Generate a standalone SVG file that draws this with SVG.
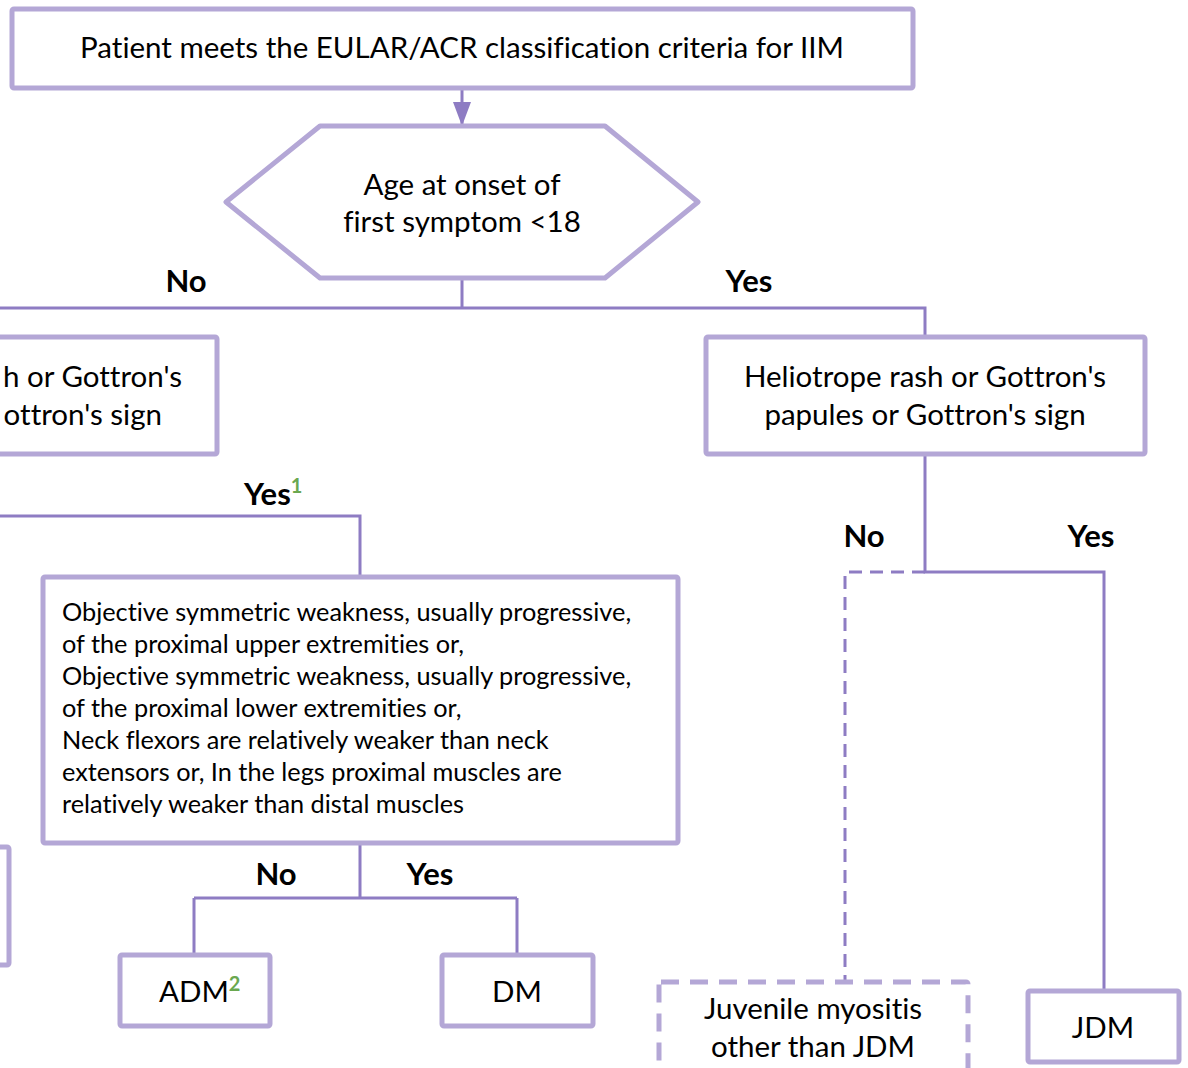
<svg xmlns="http://www.w3.org/2000/svg" width="1188" height="1068" viewBox="0 0 1188 1068">
<defs>
<style>
.box{fill:#fff;stroke:#b4a7d6;stroke-width:5;stroke-linejoin:round}
.dbox{fill:#fff;stroke:#b4a7d6;stroke-width:5;stroke-dasharray:18 11}
.ln{fill:none;stroke:#8e7cc3;stroke-width:3}
.dln{fill:none;stroke:#8e7cc3;stroke-width:3;stroke-dasharray:13 8}
text{font-variant-ligatures:none;font-family:Lato,"Liberation Sans",sans-serif}
.t{font-size:29.5px;fill:#000}
.s{font-size:25.3px;fill:#000}
.b{font-size:31px;font-weight:bold;fill:#000}
.sup{font-size:20px;font-weight:bold;fill:#6aa84f}
</style>
<marker id="ah" viewBox="0 0 10 10" preserveAspectRatio="none" refX="10" refY="5" markerWidth="8" markerHeight="6" markerUnits="strokeWidth" orient="auto">
<path d="M0,0 L10,5 L0,10 z" fill="#8e7cc3"/>
</marker>
</defs>
<g id="connectors">
<path class="ln" d="M462,88 V126" marker-end="url(#ah)"/>
<path class="ln" d="M462,278 V308 M0,308 H925 V337"/>
<path class="ln" d="M0,516 H360 V577"/>
<path class="ln" d="M360,843 V898 M194,898 H517 M194,898 V955 M517,898 V955"/>
<path class="ln" d="M925,454 V572 H1104 V991"/>
<path class="dln" d="M925,572 H845 V981"/>
</g>
<g id="n-start"><rect class="box" x="12" y="9" width="901" height="79" rx="2"/><text class="t" x="462" y="58" text-anchor="middle">Patient meets the EULAR/ACR classification criteria for IIM</text></g>
<g id="n-age"><polygon class="box" points="320,126 605,126 698,202 605,278 320,278 226,202"/><text class="t" x="462" y="195" text-anchor="middle">Age at onset of</text><text class="t" x="462" y="232" text-anchor="middle">first symptom &lt;18</text></g>
<g id="lbl-no1"><text class="b" x="186" y="292" text-anchor="middle">No</text></g>
<g id="lbl-yes1"><text class="b" x="749" y="292" text-anchor="middle">Yes</text></g>
<g id="n-rash-left"><rect class="box" x="-230" y="337" width="447" height="117" rx="2"/><text class="t" x="182" y="387" text-anchor="end">h or Gottron's</text><text class="t" x="162" y="425" text-anchor="end">ottron's sign</text></g>
<g id="n-rash-right"><rect class="box" x="706" y="337" width="439" height="117" rx="2"/><text class="t" x="925" y="387" text-anchor="middle">Heliotrope rash or Gottron's</text><text class="t" x="925" y="425" text-anchor="middle">papules or Gottron's sign</text></g>
<g id="lbl-yes2"><text class="b" x="244" y="505">Yes<tspan class="sup" dy="-12">1</tspan></text></g>
<g id="n-weak"><rect class="box" x="43" y="577" width="635" height="266" rx="2"/>
<text class="s" x="62" y="621">Objective symmetric weakness, usually progressive,</text>
<text class="s" x="62" y="653">of the proximal upper extremities or,</text>
<text class="s" x="62" y="685">Objective symmetric weakness, usually progressive,</text>
<text class="s" x="62" y="717">of the proximal lower extremities or,</text>
<text class="s" x="62" y="749">Neck flexors are relatively weaker than neck</text>
<text class="s" x="62" y="781">extensors or, In the legs proximal muscles are</text>
<text class="s" x="62" y="813">relatively weaker than distal muscles</text></g>
<g id="lbl-no3"><text class="b" x="276" y="885" text-anchor="middle">No</text></g>
<g id="lbl-yes3"><text class="b" x="430" y="885" text-anchor="middle">Yes</text></g>
<g id="n-left-partial"><rect class="box" x="-200" y="847" width="209" height="118" rx="2"/></g>
<g id="n-adm"><rect class="box" x="120" y="955" width="150" height="71" rx="2"/><text class="t" x="159" y="1002">ADM<tspan class="sup" dy="-11">2</tspan></text></g>
<g id="n-dm"><rect class="box" x="442" y="955" width="151" height="71" rx="2"/><text class="t" x="517" y="1002" text-anchor="middle">DM</text></g>
<g id="lbl-no4"><text class="b" x="864" y="547" text-anchor="middle">No</text></g>
<g id="lbl-yes4"><text class="b" x="1091" y="547" text-anchor="middle">Yes</text></g>
<g id="n-juv"><rect class="dbox" x="659" y="982" width="309" height="110" rx="2"/><text class="t" x="813" y="1019" text-anchor="middle">Juvenile myositis</text><text class="t" x="813" y="1057" text-anchor="middle">other than JDM</text></g>
<g id="n-jdm"><rect class="box" x="1028" y="991" width="151" height="71" rx="2"/><text class="t" x="1103" y="1038" text-anchor="middle">JDM</text></g>
</svg>
